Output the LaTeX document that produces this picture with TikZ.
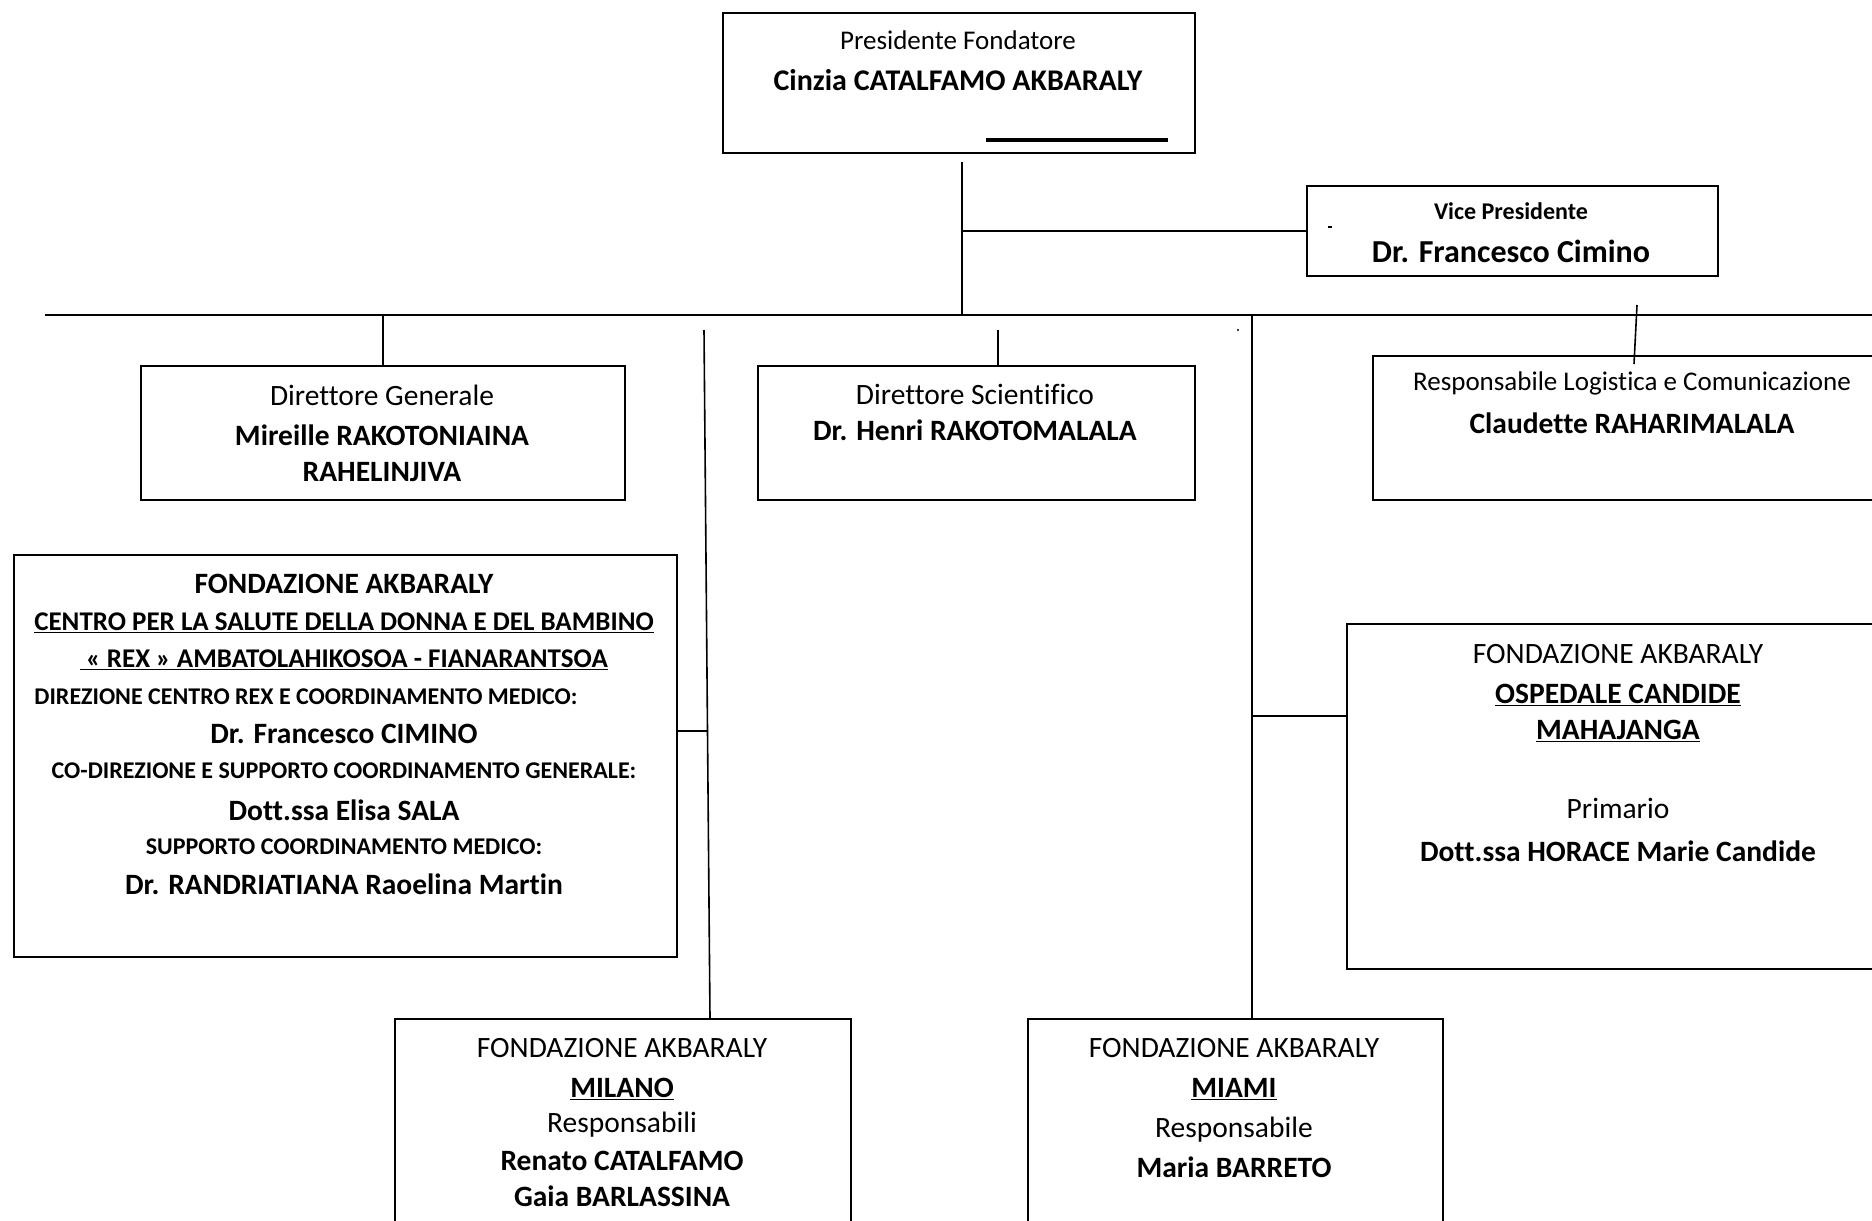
\documentclass[tikz,border=0pt]{standalone}
\usepackage{fontspec}
\setmainfont{Carlito}[Ligatures=NoCommon]
\newcommand{\fs}[1]{\fontsize{#1}{#1}\selectfont}

\begin{document}
\begin{tikzpicture}[x=1pt,y=-1pt,
  every node/.style={black},
  orgbox/.style={draw, line width=2pt, anchor=north west, inner sep=0pt},
  rolelbl/.style={inner sep=0pt, font=\fs{29.5}},
  namelbl/.style={inner sep=0pt, font=\fs{29.5}\bfseries},
  caplbl/.style={inner sep=0pt, font=\fs{24}\bfseries},
  link/.style={line width=1.6pt}]
\clip (0,0) rectangle (1872,1221);

% boxes
\node[orgbox, minimum width=472, minimum height=140] (pres) at (722,12) {};
\node[orgbox, minimum width=411, minimum height=90] (vp) at (1306,185) {};
\node[orgbox, minimum width=484, minimum height=134] (dg) at (140,365) {};
\node[orgbox, minimum width=437, minimum height=134] (ds) at (757,365) {};
\node[orgbox, minimum width=560, minimum height=144] (resp) at (1372,355) {};
\node[orgbox, minimum width=663, minimum height=402] (rex) at (13,554) {};
\node[orgbox, minimum width=560, minimum height=345] (osp) at (1346,623) {};
\node[orgbox, minimum width=456, minimum height=250] (mil) at (394,1018) {};
\node[orgbox, minimum width=415, minimum height=250] (mia) at (1027,1018) {};

% presidente
\node[rolelbl, font=\fs{27}] (pres-r) at (958,40) {Presidente Fondatore};
\node[namelbl, font=\fs{30}\bfseries] (pres-n) at (958,80) {Cinzia CATALFAMO AKBARALY};
\draw[line width=4pt] (986,140) -- (1168,140);

% vice presidente
\node[namelbl, font=\fs{24}\bfseries] (vp-r) at (1511,211) {Vice Presidente};
\node[namelbl, font=\fs{32}\bfseries] (vp-n) at (1511,251) {Dr. Francesco Cimino};
\draw[line width=1.5pt] (1328,227) -- (1332,227);

% direttori
\node[rolelbl] (dg-r) at (382,395) {Direttore Generale};
\node[namelbl, align=center] (dg-n) at (382,453) {Mireille RAKOTONIAINA\\[6pt]RAHELINJIVA};
\node[rolelbl] (ds-r) at (975,394) {Direttore Scientifico};
\node[namelbl] (ds-n) at (975,430) {Dr. Henri RAKOTOMALALA};
\node[rolelbl, font=\fs{27}] (resp-r) at (1632,383) {Responsabile Logistica e Comunicazione};
\node[namelbl] (resp-n) at (1632,423) {Claudette RAHARIMALALA};

% centro rex
\node[namelbl] (rex-1) at (344,584) {FONDAZIONE AKBARALY};
\node[caplbl, font=\fs{27}\bfseries] (rex-2) at (344,623) {\underline{CENTRO PER LA SALUTE DELLA DONNA E DEL BAMBINO}};
\node[caplbl, font=\fs{27}\bfseries] (rex-3) at (344,660) {\underline{\ « REX » AMBATOLAHIKOSOA - FIANARANTSOA}};
\node[caplbl] (rex-4) at (306,697) {DIREZIONE CENTRO REX E COORDINAMENTO MEDICO:};
\node[namelbl] (rex-5) at (344,734) {Dr. Francesco CIMINO};
\node[caplbl] (rex-6) at (344,771) {CO-DIREZIONE E SUPPORTO COORDINAMENTO GENERALE:};
\node[namelbl] (rex-7) at (344,810) {Dott.ssa Elisa SALA};
\node[caplbl] (rex-8) at (344,847) {SUPPORTO COORDINAMENTO MEDICO:};
\node[namelbl] (rex-9) at (344,884) {Dr. RANDRIATIANA Raoelina Martin};

% ospedale candide
\node[rolelbl] (osp-1) at (1618,654) {FONDAZIONE AKBARALY};
\node[namelbl] (osp-2) at (1618,695) {\underline{OSPEDALE CANDIDE}};
\node[namelbl] (osp-3) at (1618,731) {\underline{MAHAJANGA}};
\node[rolelbl] (osp-4) at (1618,808) {Primario};
\node[namelbl] (osp-5) at (1618,851) {Dott.ssa HORACE Marie Candide};

% milano
\node[rolelbl] (mil-1) at (622,1048) {FONDAZIONE AKBARALY};
\node[namelbl] (mil-2) at (622,1089) {\underline{MILANO}};
\node[rolelbl] (mil-3) at (622,1125) {Responsabili};
\node[namelbl] (mil-4) at (622,1161) {Renato CATALFAMO};
\node[namelbl] (mil-5) at (622,1196) {Gaia BARLASSINA};

% miami
\node[rolelbl] (mia-1) at (1234,1048) {FONDAZIONE AKBARALY};
\node[namelbl] (mia-2) at (1234,1089) {\underline{MIAMI}};
\node[rolelbl] (mia-3) at (1234,1130) {Responsabile};
\node[namelbl] (mia-4) at (1234,1167) {Maria BARRETO};

% connectors
\coordinate (top) at (962,162);
\coordinate (bus) at (962,315);
\coordinate (busL) at (45,315);
\coordinate (busR) at (1872,315);
\draw[link] (top) -- (bus);
\draw[link] (top |- vp.west) -- (vp.west);
\draw[line width=2.6pt] (busL) -- (busR);

\draw[link] (dg.north |- bus) -- (dg.north);

\coordinate (milT) at (704,330);
\coordinate (milB) at (710,1018);
\draw[link] (milT) -- (milB);
\draw[link] (676,731) -- (707.5,731);

\coordinate (dsT) at (998,330);
\draw[link] (dsT) -- (dsT |- ds.north);
\fill (1238,330) circle (1.2pt);

\coordinate (miaT) at (1252,315);
\draw[link] (miaT) -- (miaT |- mia.north);
\draw[link] (1252,716) -- (osp.west |- 0,716);

\coordinate (respT) at (1637,305);
\draw[link] (respT) -- (1634,364);
\end{tikzpicture}
\end{document}
